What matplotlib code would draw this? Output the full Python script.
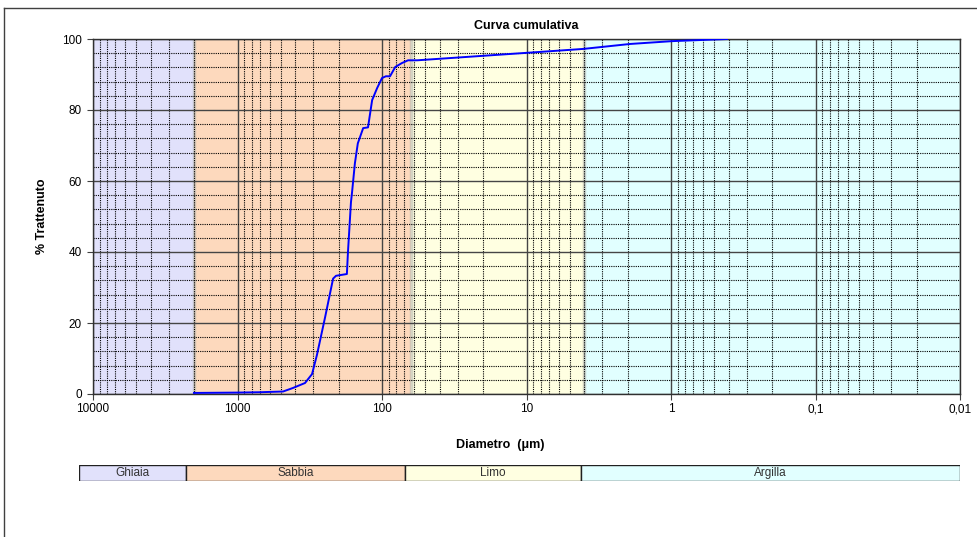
import numpy as np
import matplotlib
matplotlib.use("Agg")
import matplotlib.pyplot as plt
from matplotlib.ticker import FixedLocator, NullFormatter
from matplotlib.lines import Line2D
from matplotlib.patches import Rectangle
from matplotlib.transforms import blended_transform_factory

plt.rcParams['font.family'] = ['Liberation Sans', 'DejaVu Sans']

# curva granulometrica: diametro (um) e % trattenuto
diametro = [2000, 1000, 700, 484, 413, 341, 305, 282, 248, 218, 208, 175, 172,
            164, 161, 154, 147, 135, 125, 117, 108, 100, 94, 88, 81, 73, 66,
            57, 10, 4.06, 1.92, 0.98, 0.41]
trattenuto = [0.3, 0.4, 0.5, 0.7, 1.7, 3.1, 5.6, 11, 21.5, 32.5, 33.3, 33.8, 40,
              54, 57, 65, 70.6, 74.9, 75.1, 82.8, 86.2, 89, 89.5, 89.5, 92.1,
              93.2, 94, 94, 96.1, 97.2, 98.6, 99.4, 100]

# classi granulometriche (limiti in um)
classi = ['Ghiaia', 'Sabbia', 'Limo', 'Argilla']
limiti = [10000, 2000, 63, 4, 0.01]
colori = ['#e1e1fb', '#fdd9bd', '#ffffe1', '#e1ffff']

x_ticks = [10000, 1000, 100, 10, 1, 0.1, 0.01]
x_labels = ['10000', '1000', '100', '10', '1', '0,1', '0,01']
y_ticks = [0, 20, 40, 60, 80, 100]

fig = plt.figure(figsize=(9.77, 5.37), dpi=100)
ax = fig.add_axes([93/977, 1-394/537, 867/977, 355/537])

for i in range(len(classi)):
    ax.axvspan(limiti[i], limiti[i+1], color=colori[i], zorder=0, lw=0)
for b in limiti[1:-1]:
    ax.axvline(b, color='#b8b8b0', lw=2.5, alpha=0.6, zorder=0.5)

ax.set_xscale('log')
ax.set_xlim(10000, 0.01)
ax.set_ylim(0, 100)

minori = [m * 10.0**e for e in range(-2, 4) for m in range(2, 10)]
ax.xaxis.set_major_locator(FixedLocator(x_ticks))
ax.xaxis.set_major_formatter(NullFormatter())
ax.xaxis.set_minor_locator(FixedLocator(minori))
ax.xaxis.set_minor_formatter(NullFormatter())
ax.yaxis.set_major_locator(FixedLocator(y_ticks))
ax.yaxis.set_minor_locator(FixedLocator(list(range(0, 101, 4))))

ax.grid(True, which='major', axis='both', color='#454545', lw=1.0, ls='-', zorder=1)
ax.grid(True, which='minor', axis='both', color='#000000', lw=0.8, ls=(0, (1, 1)), zorder=1)
ax.set_axisbelow(True)

ax.tick_params(axis='both', which='major', length=4, width=0.8, labelsize=8.5, color='#404040', pad=4)
ax.tick_params(axis='both', which='minor', length=0)
for s in ax.spines.values():
    s.set_color('#303030')
    s.set_linewidth(1.0)

# etichette asse x allineate sulla linea di base
tr = blended_transform_factory(ax.transData, fig.transFigure)
for xt, lab in zip(x_ticks, x_labels):
    ax.text(xt, 1-412/537, lab, transform=tr, ha='center', va='baseline',
            fontsize=8.5, clip_on=False)

ax.plot(diametro, trattenuto, color='#0000ff', lw=1.4, zorder=3)

ax.set_title('Curva cumulativa', fontsize=9, fontweight='bold', pad=7)
ax.set_ylabel('% Trattenuto', fontsize=9, fontweight='bold', labelpad=10)
fig.text(500/977, 1-445/537, 'Diametro  (\u03bcm)', fontsize=9, fontweight='bold',
         ha='center', va='center')

# barra delle classi
leg = fig.add_axes([79/977, 1-481/537, 881/977, 16/537])
leg.set_xlim(0, 881)
leg.set_ylim(0, 1)
leg.axis('off')
bordi = [0, 107, 326, 502, 881]
for i in range(len(classi)):
    leg.add_patch(Rectangle((bordi[i], 0), bordi[i+1]-bordi[i], 1,
                            facecolor=colori[i], edgecolor='#202020', lw=1))
    leg.text((bordi[i]+bordi[i+1])/2, 0.5, classi[i], ha='center', va='center',
             fontsize=8.5, color='#333333',
             family=['Liberation Sans Narrow', 'Liberation Sans', 'DejaVu Sans'])

# cornice
fig.add_artist(Line2D([4/977, 4/977], [0, 1-8/537], transform=fig.transFigure, color='#404040', lw=1))
fig.add_artist(Line2D([4/977, 1], [1-8/537, 1-8/537], transform=fig.transFigure, color='#404040', lw=1))

fig.savefig('out.png', dpi=100)
